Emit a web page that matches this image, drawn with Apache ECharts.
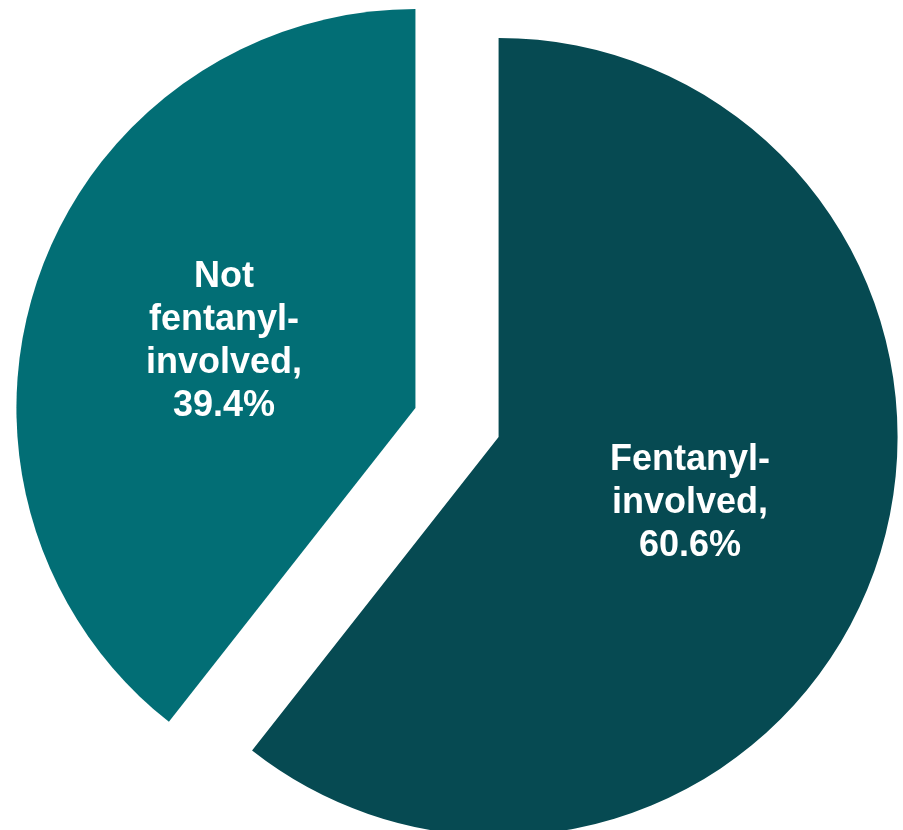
<!DOCTYPE html>
<html>
<head>
<meta charset="utf-8">
<script src="https://cdn.jsdelivr.net/npm/echarts@6/dist/echarts.min.js"></script>
<style>
html,body{margin:0;padding:0;background:#ffffff;}
#chart{width:903px;height:830px;}
</style>
</head>
<body>
<div id="chart"></div>
<script>
const categories = ['Fentanyl-involved', 'Not fentanyl-involved'];
const labelLines = ['Fentanyl-\ninvolved,', 'Not\nfentanyl-\ninvolved,'];
const values = [60.6, 39.4];
const colors = ['#064A52', '#026E75'];

const chart = echarts.init(document.getElementById('chart'), null, {renderer: 'canvas'});
chart.setOption({
  animation: false,
  backgroundColor: '#ffffff',
  series: [{
    type: 'pie',
    center: [457, 422.5],
    radius: [0, 399],
    startAngle: 90,
    clockwise: true,
    selectedMode: 'multiple',
    selectedOffset: 44,
    silent: true,
    emphasis: {disabled: true},
    label: {
      show: true,
      position: 'inside',
      color: '#ffffff',
      fontFamily: '"Liberation Sans", Arial, sans-serif',
      fontWeight: 'bold',
      fontSize: 36,
      lineHeight: 43,
      align: 'center',
      formatter: function (p) {
        return labelLines[p.dataIndex] + '\n' + values[p.dataIndex].toFixed(1) + '%';
      }
    },
    labelLine: {show: false},
    data: categories.map((c, i) => ({
      name: c,
      value: values[i],
      selected: true,
      itemStyle: {color: colors[i]}
    }))
  }]
});
</script>
</body>
</html>
